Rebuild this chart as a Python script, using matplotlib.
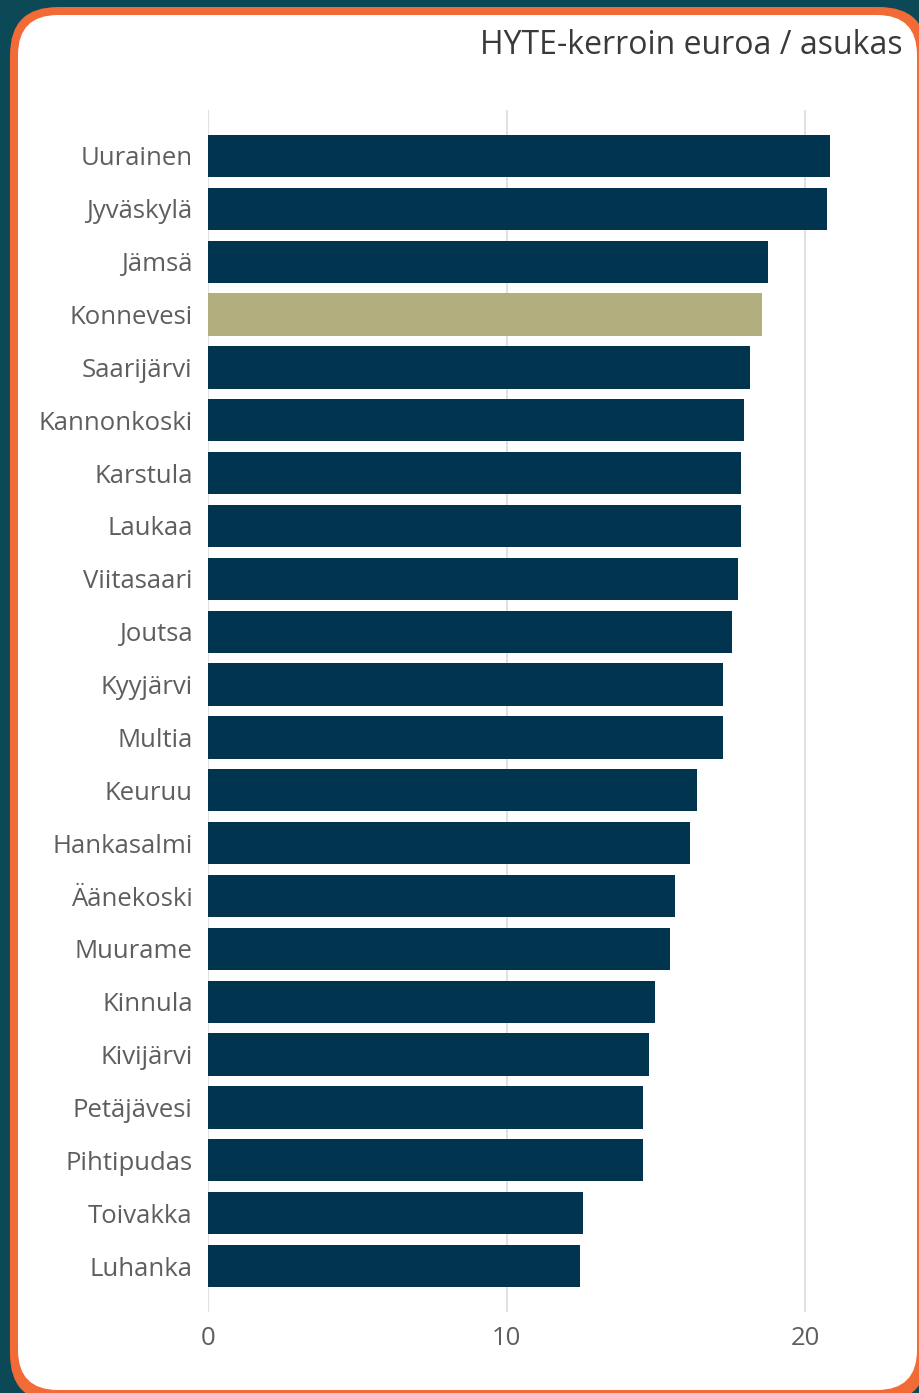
import matplotlib.pyplot as plt
from matplotlib.patches import FancyBboxPatch

# HYTE-kerroin per municipality
MUNICIPALITIES = [
    "Uurainen", "Jyväskylä", "Jämsä", "Konnevesi", "Saarijärvi", "Kannonkoski",
    "Karstula", "Laukaa", "Viitasaari", "Joutsa", "Kyyjärvi", "Multia",
    "Keuruu", "Hankasalmi", "Äänekoski", "Muurame", "Kinnula", "Kivijärvi",
    "Petäjävesi", "Pihtipudas", "Toivakka", "Luhanka",
]
EUR_PER_RESIDENT = [
    20.84, 20.74, 18.76, 18.56, 18.16, 17.96,
    17.86, 17.86, 17.76, 17.55, 17.25, 17.25,
    16.38, 16.15, 15.64, 15.48, 14.97, 14.77,
    14.57, 14.57, 12.56, 12.46,
]
HIGHLIGHT = "Konnevesi"
X_TICKS = [0, 10, 20]
TITLE = "HYTE-kerroin euroa / asukas"

W, H = 919, 1393
BG = "#0b4957"
BORDER = "#f26a35"
BAR = "#01344f"
BAR_HL = "#b3ae7e"
TEXT = "#605e5c"

plt.rcParams["font.family"] = ["Open Sans", "DejaVu Sans"]

fig = plt.figure(figsize=(W / 100, H / 100), dpi=100)
fig.patch.set_facecolor(BG)

# background frame drawn in pixel coordinates
bg = fig.add_axes([0, 0, 1, 1])
bg.set_xlim(0, W)
bg.set_ylim(H, 0)
bg.axis("off")
bg.add_patch(FancyBboxPatch((10, 7), 917, 1395,
                            boxstyle="round,pad=0,rounding_size=48",
                            facecolor=BORDER, edgecolor="none"))
bg.add_patch(FancyBboxPatch((18, 15), 899, 1375,
                            boxstyle="round,pad=0,rounding_size=40",
                            facecolor="white", edgecolor="none"))
bg.text(903, 46, TITLE, ha="right", va="center", fontsize=23, color="#3b3a39")

x0, x1 = 208, 865
y_top, y_bot = 110, 1312
ax = fig.add_axes([x0 / W, (H - y_bot) / H, (x1 - x0) / W, (y_bot - y_top) / H])
ax.set_facecolor("none")

n = len(MUNICIPALITIES)
ypos = list(range(n))
colors = [BAR_HL if m == HIGHLIGHT else BAR for m in MUNICIPALITIES]
ax.barh(ypos, EUR_PER_RESIDENT, height=0.8, color=colors, zorder=3)

ax.set_xlim(0, 22)
ax.set_ylim(n - 1 + 0.87, -0.87)
ax.set_yticks(ypos)
ax.set_yticklabels(MUNICIPALITIES, fontsize=18.5, color=TEXT)
ax.set_xticks(X_TICKS)
ax.set_xticklabels([str(t) for t in X_TICKS], fontsize=18.5, color=TEXT)
ax.tick_params(axis="both", length=0)
ax.tick_params(axis="y", pad=11)
ax.tick_params(axis="x", pad=10)
ax.grid(axis="x", color="#e1e1e1", linewidth=1.5, zorder=0)
for side in ax.spines.values():
    side.set_visible(False)

fig.savefig("out.png", dpi=100, facecolor=BG)
